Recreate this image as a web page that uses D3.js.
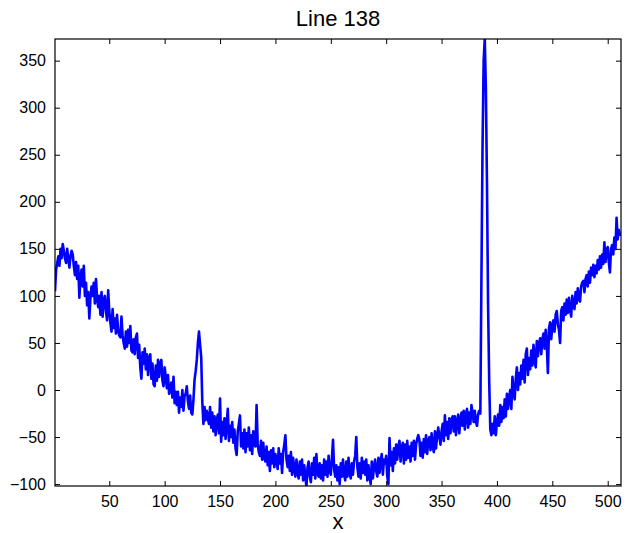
<!doctype html>
<html>
    <head>
        <meta charset="utf-8">
        <title>Line 138</title>
        <style type="text/css">
            body{ margin:0; background:#fff; }
            svg text{ font-family: "Liberation Sans", Arial, Helvetica, sans-serif; fill:#000; }
            .line{ fill:none; stroke:#0000ff; stroke-width:2.6px; stroke-linejoin:round; }
        </style>
    </head>
    <body>
        <div id="vis"></div>
        <script src="https://d3js.org/d3.v7.min.js"></script>
        <script type="text/javascript">
            var title = 'Line 138',
                xLabel = 'x',
                xTicks = [50, 100, 150, 200, 250, 300, 350, 400, 450, 500],
                yTicks = [-100, -50, 0, 50, 100, 150, 200, 250, 300, 350];

            // one value per sample, x = 1..512
            var values = [
                105, 128, 135, 142, 132, 150, 140, 155, 148, 140,
                135, 150, 140, 130, 142, 148, 144, 132, 122, 136,
                118, 132, 98, 120, 128, 110, 132, 100, 114, 90,
                104, 76, 98, 110, 100, 114, 92, 118, 98, 88,
                100, 80, 104, 78, 96, 100, 84, 74, 106, 84,
                72, 62, 86, 66, 76, 60, 80, 64, 58, 56,
                78, 58, 50, 44, 62, 46, 64, 50, 68, 42,
                40, 54, 38, 56, 60, 34, 48, 24, 12, 40,
                28, 44, 22, 38, 16, 34, 38, 12, 28, 6,
                4, 26, 10, 32, 14, 28, 32, 10, 4, 24,
                14, 2, 16, -4, -2, 8, -8, 14, -14, -2,
                -16, -2, -24, -8, -18, 0, -22, -6, -4, 4,
                -12, -20, -6, -24, -26, -10, 11, 20, 32, 50,
                62, 48, 35, -13, -36, -18, -32, -22, -30, -36,
                -18, -40, -24, -44, -28, -48, -32, -26, -46, -9,
                -55, -34, -48, -30, -52, -36, -20, -54, -38, -50,
                -34, -56, -42, -62, -69, -44, -36, -27, -60, -46,
                -62, -42, -66, -46, -60, -40, -64, -48, -68, -44,
                -58, -60, -16, -57, -66, -70, -54, -74, -56, -72,
                -76, -60, -80, -66, -86, -64, -78, -62, -82, -68,
                -74, -84, -62, -78, -68, -88, -66, -58, -48, -74,
                -82, -70, -86, -66, -90, -72, -84, -92, -74, -88,
                -94, -76, -90, -74, -96, -80, -92, -103, -82, -76,
                -92, -98, -78, -90, -72, -94, -68, -88, -92, -78,
                -94, -80, -96, -74, -90, -76, -92, -70, -86, -90,
                -72, -53, -84, -92, -80, -96, -82, -100, -78, -92,
                -74, -90, -96, -76, -92, -72, -88, -94, -78, -90,
                -76, -70, -50, -82, -92, -78, -94, -72, -88, -76,
                -90, -74, -96, -80, -92, -100, -76, -94, -82, -74,
                -86, -92, -72, -88, -76, -68, -90, -74, -78, -70,
                -92, -100, -51, -80, -66, -86, -62, -78, -58, -74,
                -60, -54, -76, -62, -56, -78, -58, -74, -54, -72,
                -60, -76, -56, -70, -54, -74, -58, -52, -48, -53,
                -70, -56, -72, -52, -66, -48, -68, -54, -50, -64,
                -46, -60, -66, -44, -62, -48, -40, -50, -58, -44,
                -36, -54, -27, -48, -34, -52, -30, -46, -32, -28,
                -44, -28, -48, -34, -26, -46, -32, -24, -38, -22,
                -42, -26, -20, -40, -24, -36, -16, -24, -34, -22,
                -34, -38, -26, -22, -25, 120, 260, 350, 373, 320,
                220, 90, 10, -42, -48, -36, -46, -28, -48, -34,
                -26, -38, -16, -34, -18, -30, -10, -28, -4, -20,
                -8, 0, -20, 14, -2, -10, 12, 24, 0, 18,
                6, 26, 12, 32, 8, 38, 44, 16, 34, 22,
                42, 26, 48, 32, 24, 52, 36, 50, 55, 38,
                54, 60, 44, 64, 48, 18, 66, 72, 54, 68,
                74, 62, 80, 84, 70, 64, 50, 84, 88, 74,
                92, 80, 96, 82, 98, 86, 78, 100, 90, 86,
                104, 92, 108, 98, 94, 110, 114, 116, 104, 118,
                122, 110, 126, 114, 130, 122, 133, 120, 132, 124,
                138, 128, 142, 130, 144, 134, 157, 136, 148, 152,
                136, 125, 150, 154, 144, 162, 150, 183, 160, 170,
                165, 166
            ];

            var W = 637, H = 533,
                plotL = 55, plotR = 621, plotT = 39, plotB = 486;

            var svg = d3.select('#vis').append('svg').attr('width', W).attr('height', H),
                x = d3.scaleLinear().domain([1, values.length]).range([plotL, plotR]),
                y = d3.scaleLinear().domain([-102, 373]).range([plotB, plotT]),
                line = d3.line().x(function(d, i){ return x(i + 1); }).y(function(d){ return y(d); });

            // clip so the line stays inside the box
            svg.append('clipPath').attr('id', 'clip').append('rect')
                .attr('x', plotL).attr('y', plotT).attr('width', plotR - plotL).attr('height', plotB - plotT);

            svg.append('path').datum(values).attr('class', 'line').attr('clip-path', 'url(#clip)').attr('d', line);

            // axes, ticks pointing inwards like matlab
            var fs = 16;
            svg.append('g').attr('transform', 'translate(0,' + plotB + ')')
                .call(d3.axisBottom(x).tickValues(xTicks).tickSizeInner(-5).tickSizeOuter(0).tickPadding(10))
                .call(function(g){ g.selectAll('text').style('font-size', fs + 'px'); });
            svg.append('g').attr('transform', 'translate(0,' + plotT + ')')
                .call(d3.axisTop(x).tickValues(xTicks).tickSizeInner(-5).tickSizeOuter(0).tickFormat(''));
            svg.append('g').attr('transform', 'translate(' + plotL + ',0)')
                .call(d3.axisLeft(y).tickValues(yTicks).tickSizeInner(-5).tickSizeOuter(0).tickPadding(9).tickFormat(d3.format('d')))
                .call(function(g){ g.selectAll('text').style('font-size', fs + 'px'); });
            svg.append('g').attr('transform', 'translate(' + plotR + ',0)')
                .call(d3.axisRight(y).tickValues(yTicks).tickSizeInner(-5).tickSizeOuter(0).tickFormat(''));

            svg.selectAll('.domain').remove();
            svg.selectAll('.tick line').attr('stroke', '#000');
            svg.append('rect').attr('x', plotL).attr('y', plotT).attr('width', plotR - plotL).attr('height', plotB - plotT)
                .attr('fill', 'none').attr('stroke', '#000').attr('stroke-width', 1.2);

            svg.append('text').attr('x', (plotL + plotR) / 2).attr('y', 26).attr('text-anchor', 'middle')
                .style('font-size', '22px').text(title);
            svg.append('text').attr('x', (plotL + plotR) / 2).attr('y', 529).attr('text-anchor', 'middle')
                .style('font-size', '22px').text(xLabel);
        </script>
    </body>
</html>
